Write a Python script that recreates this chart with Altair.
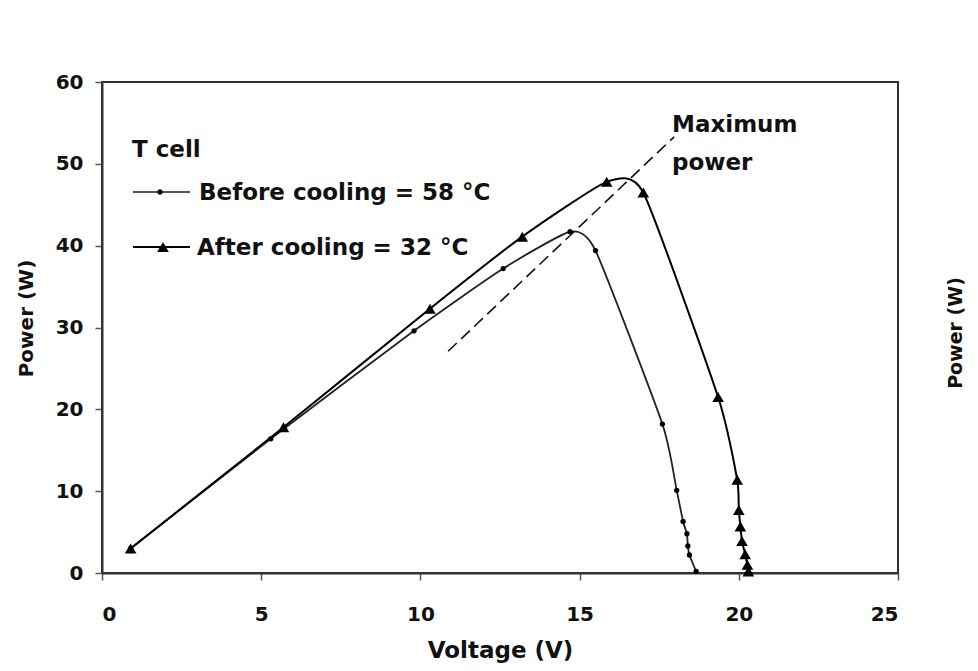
import altair as alt
import pandas as pd

# ---- data ----
before_v = [0.9, 5.3, 9.8, 12.6, 14.7, 15.5, 17.6, 18.05, 18.25, 18.37, 18.4, 18.45, 18.66]
before_p = [3.0, 16.4, 29.6, 37.2, 41.7, 39.4, 18.2, 10.1, 6.3, 4.8, 3.3, 2.2, 0.2]

after_v = [0.9, 5.7, 10.3, 13.2, 15.85, 17.0, 19.35, 19.95, 20.0, 20.05, 20.1, 20.2, 20.27, 20.3]
after_p = [3.0, 17.8, 32.3, 41.1, 47.8, 46.5, 21.5, 11.4, 7.7, 5.7, 3.9, 2.3, 1.0, 0.2]

maxp_v = [10.87, 17.97]
maxp_p = [27.1, 53.3]

x_ticks = [0, 5, 10, 15, 20, 25]
y_ticks = [0, 10, 20, 30, 40, 50, 60]

legend_title = "T cell"
label_before = "Before cooling = 58 °C"
label_after = "After cooling = 32 °C"
annot_lines = ["Maximum", "power"]
side_title = "Power  (W)"

FONT = "DejaVu Sans"

before_df = pd.DataFrame({"V": before_v, "P": before_p})
after_df = pd.DataFrame({"V": after_v, "P": after_p})
maxp_df = pd.DataFrame({"V": maxp_v, "P": maxp_p})
one = pd.DataFrame({"k": [0]})

xs = alt.Scale(domain=[0, 25], nice=False, zero=False)
ys = alt.Scale(domain=[0, 60], nice=False, zero=False)

x_enc = alt.X(
    "V:Q", scale=xs,
    axis=alt.Axis(
        title="Voltage  (V)", values=x_ticks, grid=False,
        tickSize=7, labelPadding=24, labelFontSize=20,
        titleFontSize=23, titleY=84, titleBaseline="alphabetic",
    ),
)
y_enc = alt.Y(
    "P:Q", scale=ys,
    axis=alt.Axis(
        title="Power  (W)", values=y_ticks, grid=False,
        tickSize=7, labelPadding=12, labelFontSize=20,
        titleFontSize=20, titleX=-76, titleY=236, titleAngle=270,
        titleBaseline="middle", titleAlign="center",
    ),
)

before_line = alt.Chart(before_df).mark_line(
    color="#222", strokeWidth=1.8, interpolate="cardinal", tension=0.45
).encode(x=x_enc, y=y_enc, order="V:Q")
before_pts = alt.Chart(before_df).mark_point(
    shape="circle", filled=True, color="#000", size=28, opacity=1
).encode(x="V:Q", y="P:Q")

after_line = alt.Chart(after_df).mark_line(
    color="#000", strokeWidth=2, interpolate="cardinal", tension=0.45
).encode(x="V:Q", y="P:Q", order="V:Q")
after_pts = alt.Chart(after_df).mark_point(
    shape="triangle-up", filled=True, color="#000", size=135, opacity=1
).encode(x="V:Q", y="P:Q")

maxp_line = alt.Chart(maxp_df).mark_line(
    color="#111", strokeWidth=1.6, strokeDash=[12, 6]
).encode(x="V:Q", y="P:Q")

def txt(s, x, y, size=23, baseline="alphabetic", angle=0, align="left"):
    return alt.Chart(one).mark_text(
        text=s, font=FONT, fontWeight="bold", fontSize=size, color="#111",
        align=align, baseline=baseline, angle=angle,
    ).encode(x=alt.value(x), y=alt.value(y))

legend = [
    txt(legend_title, 30, 75),
    alt.Chart(one).mark_rule(color="#555", strokeWidth=1.8).encode(
        x=alt.value(31), x2=alt.value(88), y=alt.value(110)),
    alt.Chart(one).mark_point(shape="circle", filled=True, color="#000", size=28, opacity=1).encode(
        x=alt.value(58), y=alt.value(110)),
    txt(label_before, 97, 118),
    alt.Chart(one).mark_rule(color="#000", strokeWidth=2).encode(
        x=alt.value(31), x2=alt.value(88), y=alt.value(165)),
    alt.Chart(one).mark_point(shape="triangle-up", filled=True, color="#000", size=135, opacity=1).encode(
        x=alt.value(61), y=alt.value(165)),
    txt(label_after, 95, 173),
    txt(annot_lines[0], 570, 50),
    txt(annot_lines[1], 570, 88),
    txt(side_title, 854, 251, size=19, baseline="middle", angle=270, align="center"),
]

chart = alt.layer(
    maxp_line, before_line, after_line, before_pts, after_pts, *legend
).properties(
    width=796, height=491,
    autosize=alt.AutoSizeParams(type="none"),
    padding={"left": 94, "top": 74, "right": 72, "bottom": 90},
    background="white",
).configure_view(
    stroke="#333", strokeWidth=2
).configure_axis(
    labelFont=FONT, titleFont=FONT, labelFontWeight="bold", titleFontWeight="bold",
    labelColor="#111", titleColor="#111", domainColor="#333", domainWidth=2,
    tickColor="#555", tickWidth=1.5,
)

chart.save("out.html", embed_options={"renderer": "svg", "actions": False})
